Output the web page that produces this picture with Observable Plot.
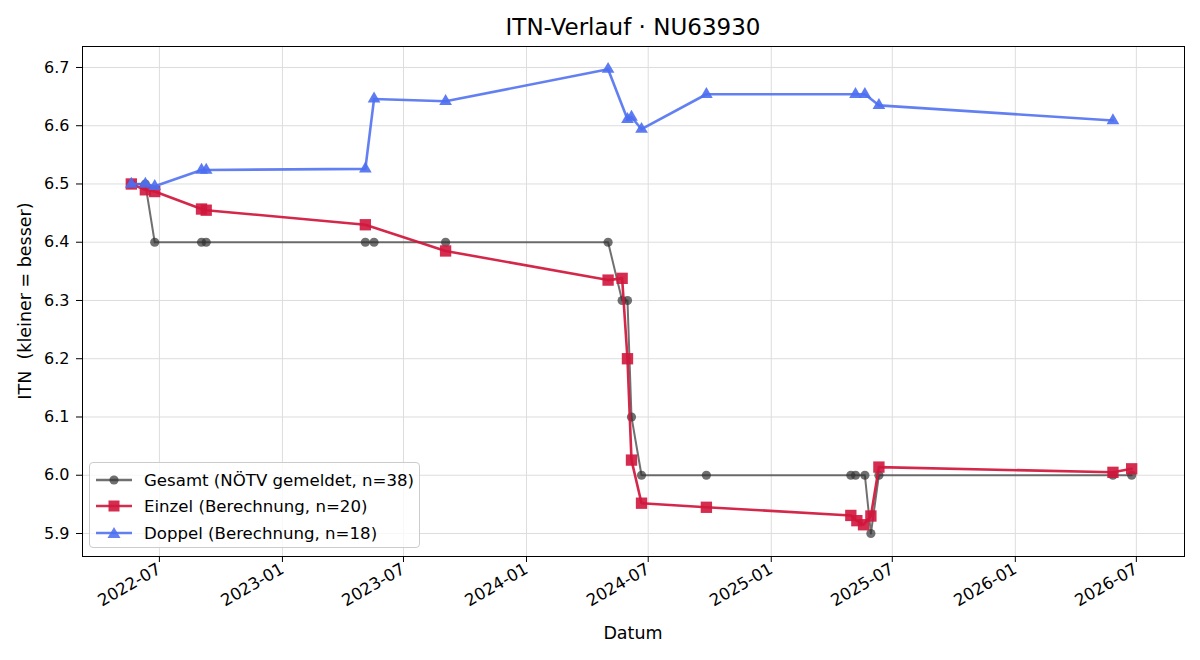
<!DOCTYPE html>
<html><head><meta charset="utf-8">
<script src="https://cdn.jsdelivr.net/npm/d3@7"></script>
<script src="https://cdn.jsdelivr.net/npm/@observablehq/plot@0.6"></script>
<style>
body{margin:0;background:#fff;font-family:"DejaVu Sans",sans-serif;}
#wrap{position:relative;width:1200px;height:660px;overflow:hidden;background:#fff;}
#title{position:absolute;left:82px;width:1102px;top:14px;text-align:center;font-size:23px;color:#000;white-space:pre;}
#chart{position:absolute;left:0;top:45px;}
#chart svg text{font-size:16px !important;font-family:"DejaVu Sans",sans-serif !important;}
#chart svg g[aria-label="x-axis tick label"] text{font-size:16.6px !important;}
#xlabel{position:absolute;left:82px;width:1102px;top:622px;height:22px;line-height:22px;text-align:center;font-size:17.5px;color:#000;}
#ylabel{position:absolute;left:-175px;width:400px;top:290px;height:22px;line-height:22px;text-align:center;font-size:17.5px;color:#000;transform:rotate(-90deg);white-space:pre;}
#legend{position:absolute;left:89px;top:462px;width:329px;height:84px;border:1px solid #cccccc;border-radius:4px;background:rgba(255,255,255,0.8);}
.row{position:absolute;left:0;height:26px;display:flex;align-items:center;font-size:16.6px;white-space:nowrap;color:#000;}
.row svg{margin-left:6px;margin-right:10px;}
</style></head>
<body>
<div id="wrap">
  <div id="title">ITN-Verlauf · NU63930</div>
  <div id="chart"></div>
  <div id="xlabel"></div>
  <div id="ylabel"></div>
  <div id="legend"></div>
</div>
<script>
// ---- data ----
const gesamtDates = ["2022-05-20","2022-06-10","2022-06-24","2022-09-02","2022-09-09","2023-05-05","2023-05-18","2023-09-02","2024-05-02","2024-05-23","2024-05-31","2024-06-06","2024-06-21","2024-09-26","2025-04-30","2025-05-07","2025-05-21","2025-05-30","2025-06-11","2026-05-27","2026-06-24"];
const gesamtValues = [6.5,6.5,6.4,6.4,6.4,6.4,6.4,6.4,6.4,6.3,6.3,6.1,6.0,6.0,6.0,6.0,6.0,5.9,6.0,6.0,6.0];

const einzelDates = ["2022-05-20","2022-06-10","2022-06-24","2022-09-02","2022-09-09","2023-05-05","2023-09-02","2024-05-02","2024-05-23","2024-05-31","2024-06-06","2024-06-21","2024-09-26","2025-04-30","2025-05-09","2025-05-19","2025-05-30","2025-06-11","2026-05-27","2026-06-24"];
const einzelValues = [6.5,6.490,6.487,6.457,6.455,6.430,6.385,6.335,6.338,6.200,6.026,5.952,5.945,5.931,5.922,5.915,5.930,6.014,6.005,6.011];

const doppelDates = ["2022-05-20","2022-06-10","2022-06-24","2022-09-02","2022-09-09","2023-05-05","2023-05-18","2023-09-02","2024-05-02","2024-05-31","2024-06-06","2024-06-21","2024-09-26","2025-05-07","2025-05-21","2025-06-11","2026-05-27"];
const doppelValues = [6.5,6.5,6.496,6.524,6.524,6.526,6.646,6.642,6.697,6.611,6.615,6.594,6.654,6.654,6.654,6.635,6.609];

const seriesLabels = ["Gesamt (NÖTV gemeldet, n=38)","Einzel (Berechnung, n=20)","Doppel (Berechnung, n=18)"];
const xTickLabels = ["2022-07","2023-01","2023-07","2024-01","2024-07","2025-01","2025-07","2026-01","2026-07"];
const yTickValues = [5.9,6.0,6.1,6.2,6.3,6.4,6.5,6.6,6.7];
const xDomain = ["2022-03-08","2026-09-11"];
const yDomain = [5.8605,6.736];
const xLabel = "Datum";
const yLabel = "ITN  (kleiner = besser)";

// ---- build ----
const parse = d3.utcParse("%Y-%m-%d");
const parseM = d3.utcParse("%Y-%m");
const toRows = (ds, vs) => ds.map((d,i) => ({date: parse(d), value: vs[i]}));
const gesamt = toRows(gesamtDates, gesamtValues);
const einzel = toRows(einzelDates, einzelValues);
const doppel = toRows(doppelDates, doppelValues);
const xTicks = xTickLabels.map(parseM);

const GRAY = "#333333", RED = "#d0163c", BLUE = "#4d6ef0";

const chart = Plot.plot({
  width: 1200,
  height: 615,
  marginLeft: 82,
  marginRight: 16,
  marginTop: 1,
  marginBottom: 104,
  style: {fontFamily: "DejaVu Sans, sans-serif", fontSize: "16px", color: "#000", background: "transparent"},
  x: {type: "utc", domain: xDomain.map(parse)},
  y: {domain: yDomain},
  marks: [
    Plot.gridX(xTicks, {stroke: "#dddddd", strokeOpacity: 1}),
    Plot.gridY(yTickValues, {stroke: "#dddddd", strokeOpacity: 1}),
    Plot.line(gesamt, {x: "date", y: "value", stroke: GRAY, strokeOpacity: 0.7, strokeWidth: 2}),
    Plot.dot(gesamt, {x: "date", y: "value", r: 4.6, fill: GRAY, fillOpacity: 0.7, stroke: "none"}),
    Plot.line(einzel, {x: "date", y: "value", stroke: RED, strokeOpacity: 0.92, strokeWidth: 2.6}),
    Plot.dot(einzel, {x: "date", y: "value", symbol: "square", r: 6.4, fill: RED, fillOpacity: 0.9, stroke: "none"}),
    Plot.line(doppel, {x: "date", y: "value", stroke: BLUE, strokeOpacity: 0.88, strokeWidth: 2.6}),
    Plot.dot(doppel, {x: "date", y: "value", symbol: "triangle", r: 4.7, fill: BLUE, fillOpacity: 0.9, stroke: "none"}),
    Plot.frame({stroke: "#000", strokeWidth: 1}),
    Plot.axisY({ticks: yTickValues, tickFormat: d3.format(".1f"), tickSize: 6, tickPadding: 7, label: null}),
    Plot.axisX({ticks: xTicks, tickFormat: d3.utcFormat("%Y-%m"), tickRotate: -30, tickSize: 6, tickPadding: 5, label: null})
  ]
});
document.getElementById("chart").appendChild(chart);
document.getElementById("xlabel").textContent = xLabel;
document.getElementById("ylabel").textContent = yLabel;

// ---- legend ----
const legend = document.getElementById("legend");
const legendStyles = [
  {color: GRAY, op: 0.7, sym: "circle"},
  {color: RED, op: 0.9, sym: "square"},
  {color: BLUE, op: 0.88, sym: "triangle"}
];
const tops = [4, 30, 57];
seriesLabels.forEach((lab, i) => {
  const s = legendStyles[i];
  const row = document.createElement("div");
  row.className = "row";
  row.style.top = tops[i] + "px";
  let marker;
  if (s.sym === "circle") marker = `<circle cx="18" cy="9" r="4.6" fill="${s.color}" fill-opacity="${s.op}"/>`;
  else if (s.sym === "square") marker = `<rect x="12.5" y="3.5" width="11" height="11" fill="${s.color}" fill-opacity="${s.op}"/>`;
  else marker = `<path d="M18,3 L24.5,14 L11.5,14 Z" fill="${s.color}" fill-opacity="${s.op}"/>`;
  row.innerHTML = `<svg width="38" height="18"><line x1="0" y1="9" x2="36" y2="9" stroke="${s.color}" stroke-opacity="${s.op}" stroke-width="2.6"/>${marker}</svg><span>${lab}</span>`;
  legend.appendChild(row);
});
</script>
</body></html>
